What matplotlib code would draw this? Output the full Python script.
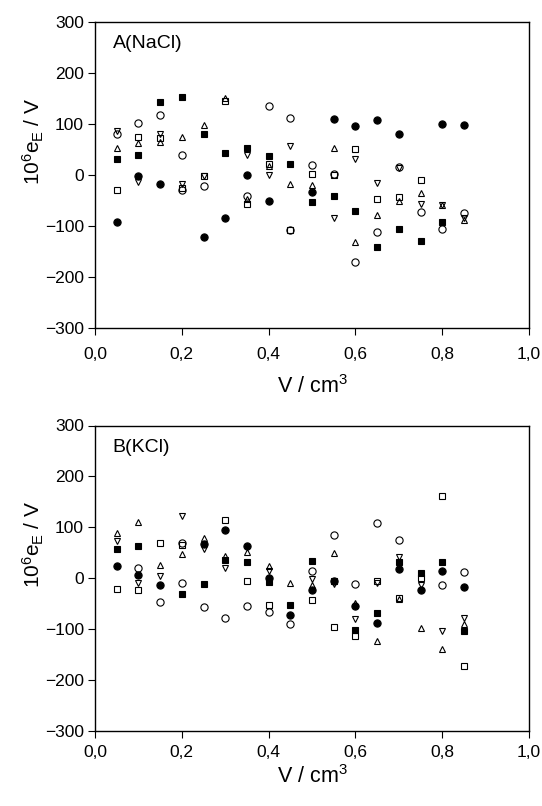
import numpy as np
import matplotlib
matplotlib.use('Agg')
import matplotlib.pyplot as plt

plt.rcParams['font.family'] = ['Liberation Sans', 'DejaVu Sans']
plt.rcParams['mathtext.default'] = 'regular'

# x ticks / y ticks
xticks = [0.0, 0.2, 0.4, 0.6, 0.8, 1.0]
xtick_labels = ['0,0', '0,2', '0,4', '0,6', '0,8', '1,0']
yticks = [-300, -200, -100, 0, 100, 200, 300]

# panel A (NaCl) -- one x/y pair of lists per marker
a_fc_x = [0.05, 0.10, 0.15, 0.25, 0.30, 0.35, 0.40, 0.50, 0.55, 0.60, 0.65, 0.70, 0.80, 0.85]
a_fc_y = [-93, -3, -19, -122, -84, -1, -52, -34, 110, 95, 108, 80, 100, 98]
a_oc_x = [0.05, 0.10, 0.15, 0.20, 0.20, 0.25, 0.35, 0.40, 0.45, 0.45, 0.50, 0.55, 0.60, 0.65, 0.70, 0.75, 0.80, 0.85]
a_oc_y = [80, 101, 117, 39, -30, -23, -41, 135, 112, -108, 20, 2, -171, -112, 16, -73, -106, -75]
a_fs_x = [0.05, 0.10, 0.15, 0.20, 0.25, 0.30, 0.35, 0.40, 0.45, 0.50, 0.55, 0.60, 0.65, 0.70, 0.75, 0.80]
a_fs_y = [31, 39, 143, 152, 80, 42, 52, 36, 21, -54, -41, -70, -141, -107, -130, -93]
a_os_x = [0.05, 0.10, 0.15, 0.20, 0.25, 0.30, 0.35, 0.40, 0.45, 0.50, 0.55, 0.60, 0.65, 0.70, 0.75]
a_os_y = [-29, 74, 72, -25, -3, 144, -57, 22, -108, 1, -1, 50, -47, -44, -11]
a_ut_x = [0.05, 0.10, 0.15, 0.20, 0.25, 0.30, 0.35, 0.40, 0.45, 0.50, 0.55, 0.60, 0.65, 0.70, 0.75, 0.80, 0.85]
a_ut_y = [52, 62, 65, 74, 98, 150, -48, 18, -18, -21, 52, -131, -78, -52, -35, -59, -88]
a_dt_x = [0.05, 0.10, 0.15, 0.20, 0.25, 0.35, 0.40, 0.45, 0.55, 0.60, 0.65, 0.70, 0.75, 0.80, 0.85]
a_dt_y = [85, -14, 80, -18, -2, 39, -1, 57, -84, 31, -16, 14, -57, -59, -85]

# panel B (KCl)
b_fc_x = [0.05, 0.10, 0.15, 0.25, 0.30, 0.35, 0.40, 0.45, 0.50, 0.55, 0.60, 0.65, 0.70, 0.75, 0.80, 0.85]
b_fc_y = [24, 7, -14, 68, 94, 64, 1, -73, -24, -6, -55, -87, 19, -24, 15, -17]
b_oc_x = [0.10, 0.15, 0.20, 0.20, 0.25, 0.30, 0.35, 0.40, 0.45, 0.50, 0.55, 0.60, 0.65, 0.70, 0.80, 0.85]
b_oc_y = [20, -46, 69, -9, -57, -78, -55, -67, -89, 14, 85, -12, 108, 75, -14, 12]
b_fs_x = [0.05, 0.10, 0.20, 0.25, 0.30, 0.35, 0.40, 0.45, 0.50, 0.55, 0.60, 0.65, 0.70, 0.75, 0.80, 0.85]
b_fs_y = [57, 64, -30, -12, 36, 32, -8, -52, 34, -6, -101, -68, 32, 11, 32, -103]
b_os_x = [0.05, 0.10, 0.15, 0.20, 0.30, 0.35, 0.40, 0.50, 0.55, 0.60, 0.65, 0.70, 0.75, 0.80, 0.85]
b_os_y = [-22, -24, 70, 66, 114, -5, -53, -42, -96, -113, -5, -39, 0, 161, -172]
b_ut_x = [0.05, 0.10, 0.15, 0.20, 0.25, 0.30, 0.35, 0.40, 0.45, 0.50, 0.55, 0.60, 0.65, 0.70, 0.75, 0.80, 0.85]
b_ut_y = [88, 111, 27, 47, 80, 43, 52, 24, -9, -14, 49, -49, -123, -41, -97, -139, -89]
b_dt_x = [0.05, 0.10, 0.15, 0.20, 0.25, 0.30, 0.40, 0.50, 0.55, 0.60, 0.65, 0.70, 0.75, 0.80, 0.85]
b_dt_y = [74, -9, 5, 122, 57, 20, 14, -1, -12, -80, -10, 41, -14, -103, -78]


def draw_panel(ax, series, title, xpad, xlabelpad):
    for x, y, marker, filled, ms in series:
        ax.plot(x, y, linestyle='none', marker=marker, markersize=ms,
                markerfacecolor='black' if filled else 'none',
                markeredgecolor='black', markeredgewidth=0.8)
    ax.set_xlim(0, 1)
    ax.set_ylim(-300, 300)
    ax.set_xticks(xticks)
    ax.set_xticklabels(xtick_labels)
    ax.set_yticks(yticks)
    ax.tick_params(direction='out', length=5, width=0.8, labelsize=12.5)
    ax.tick_params(axis='y', pad=3)
    ax.tick_params(axis='x', pad=xpad)
    ax.set_xlabel('V / cm$^3$', fontsize=15.5, labelpad=xlabelpad)
    ax.set_ylabel('10$^6$e$_E$ / V', fontsize=15)
    ax.yaxis.set_label_coords(-0.114, 0.61)
    ax.text(0.041, 0.955, title, transform=ax.transAxes, fontsize=14,
            ha='left', va='top')
    for s in ax.spines.values():
        s.set_linewidth(1.0)


fig = plt.figure(figsize=(5.42, 8.06), dpi=100)
ax1 = fig.add_axes([95 / 542, 1 - 328 / 806, 434 / 542, 306.5 / 806])
ax2 = fig.add_axes([95 / 542, 1 - 731 / 806, 434 / 542, 305.5 / 806])

draw_panel(ax1, [
    (a_fc_x, a_fc_y, 'o', True, 5.2),
    (a_oc_x, a_oc_y, 'o', False, 5.2),
    (a_fs_x, a_fs_y, 's', True, 4.6),
    (a_os_x, a_os_y, 's', False, 4.6),
    (a_ut_x, a_ut_y, '^', False, 5),
    (a_dt_x, a_dt_y, 'v', False, 5),
], 'A(NaCl)', 9, 9)

draw_panel(ax2, [
    (b_fc_x, b_fc_y, 'o', True, 5.2),
    (b_oc_x, b_oc_y, 'o', False, 5.2),
    (b_fs_x, b_fs_y, 's', True, 4.6),
    (b_os_x, b_os_y, 's', False, 4.6),
    (b_ut_x, b_ut_y, '^', False, 5),
    (b_dt_x, b_dt_y, 'v', False, 5),
], 'B(KCl)', 5, 4)

fig.savefig('out.png', dpi=100)
